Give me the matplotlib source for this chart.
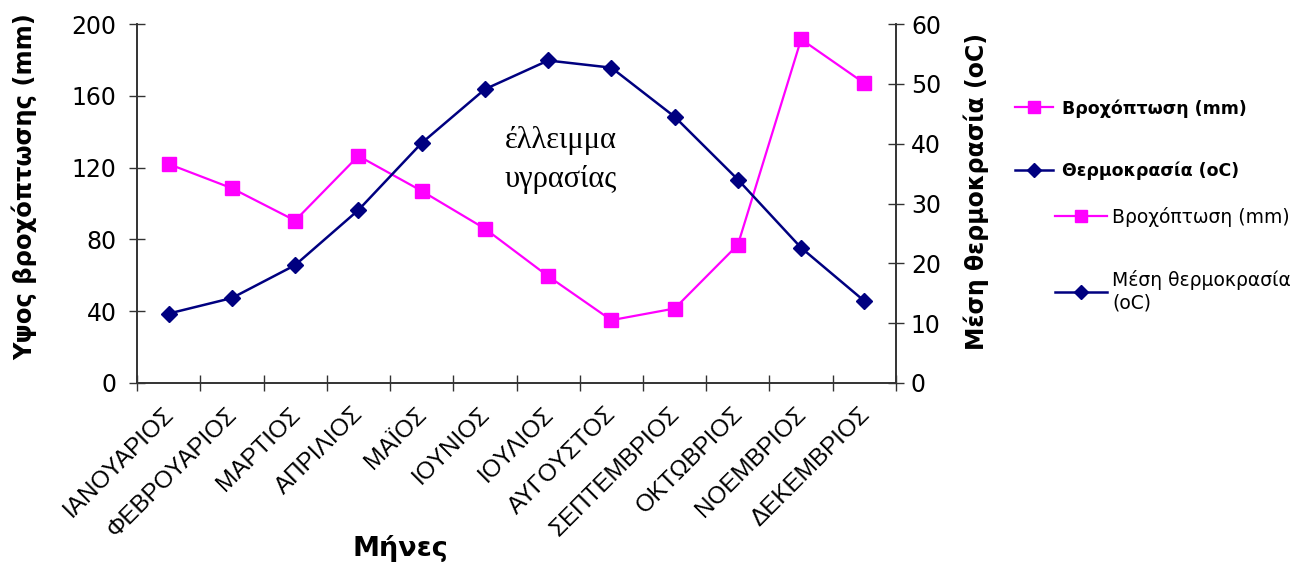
import matplotlib
matplotlib.use("Agg")
import matplotlib.pyplot as plt
import numpy as np

months = ["ΙΑΝΟΥΑΡΙΟΣ", "ΦΕΒΡΟΥΑΡΙΟΣ", "ΜΑΡΤΙΟΣ", "ΑΠΡΙΛΙΟΣ", "ΜΑΪΟΣ", "ΙΟΥΝΙΟΣ",
          "ΙΟΥΛΙΟΣ", "ΑΥΓΟΥΣΤΟΣ", "ΣΕΠΤΕΜΒΡΙΟΣ", "ΟΚΤΩΒΡΙΟΣ", "ΝΟΕΜΒΡΙΟΣ", "ΔΕΚΕΜΒΡΙΟΣ"]
rain_mm = [122, 108.5, 90.5, 126.5, 107, 86, 59.5, 35, 41.5, 77, 191.5, 167]
temp_c = [11.6, 14.2, 19.7, 28.9, 40.1, 49.1, 53.9, 52.7, 44.5, 34.0, 22.6, 13.7]
rain_ticks = [0, 40, 80, 120, 160, 200]
temp_ticks = [0, 10, 20, 30, 40, 50, 60]

plt.rcParams['font.family'] = ['DejaVu Sans']

PINK = '#FF00FF'
NAVY = '#000080'
AX = '#333333'

fig = plt.figure(figsize=(13.01, 5.62), dpi=100)
ax = fig.add_axes([137/1301, 1-383/562, (896-137)/1301, (383-24)/562])
ax2 = ax.twinx()

x = np.arange(len(months))
l1, = ax.plot(x, rain_mm, color=PINK, lw=1.6, marker='s', ms=10.5,
              mfc=PINK, mec=PINK, zorder=3)
l2, = ax2.plot(x, temp_c, color=NAVY, lw=1.8, marker='D', ms=8,
               mfc=NAVY, mec=NAVY, zorder=3)

ax.set_xlim(-0.5, len(months) - 0.5)
ax.set_ylim(0, 200)
ax2.set_ylim(0, 60)
ax.set_yticks(rain_ticks)
ax2.set_yticks(temp_ticks)

ax.set_xticks(np.arange(-0.5, len(months)), labels=[''] * (len(months) + 1))
ax.set_xticks(x, labels=months, minor=True)
ax.tick_params(axis='x', which='minor', length=0, pad=19, labelsize=17.5)
ax.tick_params(axis='x', which='major', direction='inout', length=11.5, width=1, color=AX)
for lab in ax.get_xticklabels(minor=True):
    lab.set_rotation(45)
    lab.set_ha('right')
    lab.set_va('center_baseline')
    lab.set_rotation_mode('anchor')
    lab.set_family('Liberation Sans')

ax.tick_params(axis='y', direction='inout', length=11.5, width=1, color=AX,
               labelsize=17, pad=9)
ax2.tick_params(axis='y', direction='inout', length=11.5, width=1, color=AX,
                labelsize=17, pad=5)

for a in (ax, ax2):
    a.spines['top'].set_visible(False)
    for s in ('left', 'right', 'bottom'):
        a.spines[s].set_color(AX)
        a.spines[s].set_linewidth(1.2)
    a.patch.set_visible(False)

ax.set_ylabel("Υψος βροχόπτωσης (mm)", fontsize=17.5, fontweight='bold')
ax.yaxis.set_label_coords((24-137)/759, (383-187)/359)
ax.yaxis.label.set_va('center')
ax2.set_ylabel("Μέση θερμοκρασία (oC)", fontsize=17, fontweight='bold')
ax2.yaxis.set_label_coords((976-137)/759, (383-192)/359)
ax2.yaxis.label.set_va('center')
ax.set_xlabel("Μήνες", fontsize=19.5, fontweight='bold')
ax.xaxis.set_label_coords((400-137)/759, (383-535)/359)

ax.text(6.2, 124, "έλλειμμα\nυγρασίας", family='Liberation Serif', fontsize=22,
        ha='center', va='center', linespacing=1.45, zorder=4)

fig.legend(handles=[l1, l2], labels=["Βροχόπτωση (mm)", "Θερμοκρασία (oC)"],
           loc='upper left', bbox_to_anchor=(1015/1301, 1-99/562), frameon=False,
           prop={'family': 'DejaVu Sans', 'weight': 'bold', 'size': 12.5},
           handlelength=2.2, handletextpad=0.5, labelspacing=2.55,
           borderpad=0, borderaxespad=0, markerscale=0.85)
fig.legend(handles=[l1, l2], labels=["Βροχόπτωση (mm)", "Μέση θερμοκρασία\n(oC)"],
           loc='upper left', bbox_to_anchor=(1055/1301, 1-207/562), frameon=False,
           prop={'family': 'DejaVu Sans', 'size': 13.5},
           handlelength=2.75, handletextpad=0.3, labelspacing=2.3,
           borderpad=0, borderaxespad=0, markerscale=0.85)

fig.savefig("out.png", dpi=100)
